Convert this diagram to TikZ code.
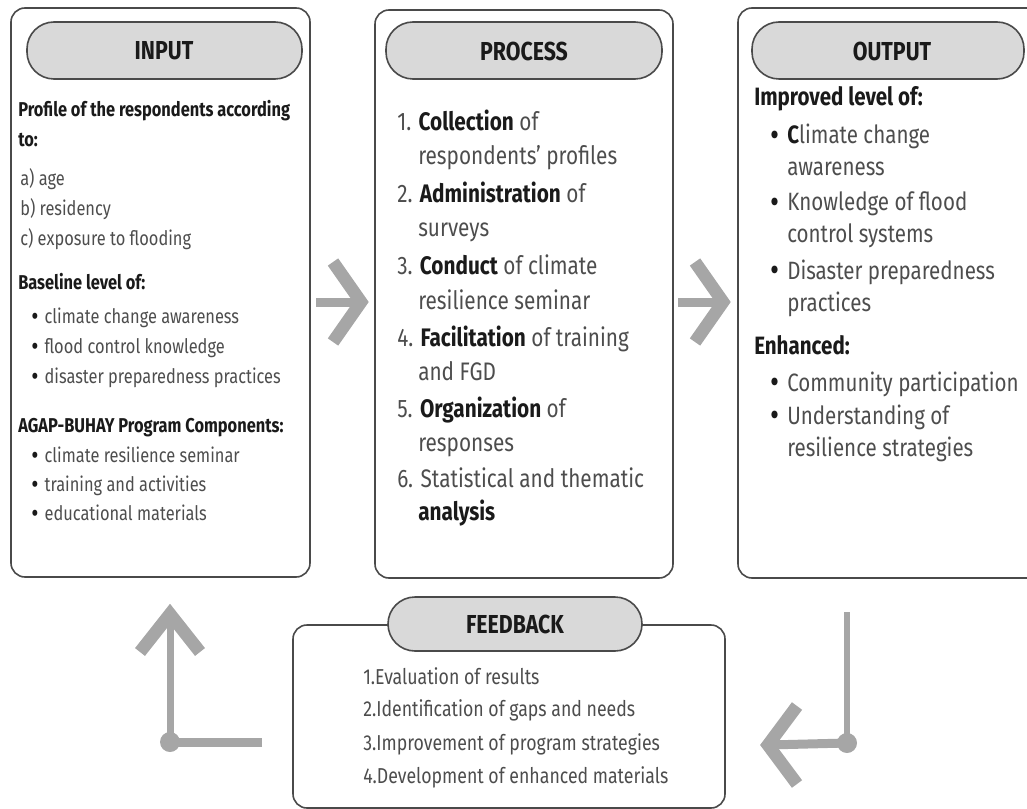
\documentclass[tikz,border=0pt]{standalone}
\usepackage{fontspec}
\usepackage{graphicx}
\usetikzlibrary{calc}
\setmainfont[FakeStretch=0.82]{Fira Sans}
\definecolor{arrowgray}{HTML}{A6A6A6}
\definecolor{pillgray}{HTML}{D9D9D9}
\definecolor{edgegray}{HTML}{4A4A4A}
\definecolor{txtgray}{HTML}{4D4D4D}
\definecolor{boldtxt}{HTML}{1A1A1A}
\tikzset{
  box/.style={draw=edgegray, line width=1.2pt, rounded corners=10.5pt},
  pill/.style={draw=edgegray, line width=1.2pt, fill=pillgray, rounded corners=20.25pt},
  head/.style={font=\bfseries\fontsize{19.5}{21}\selectfont, text=boldtxt, inner sep=0pt},
  intxt/.style={anchor=base west, inner sep=0pt, text=txtgray, font=\fontsize{15}{17}\selectfont},
  prtxt/.style={anchor=base west, inner sep=0pt, text=txtgray, font=\fontsize{19}{21}\selectfont},
  outtxt/.style={anchor=base west, inner sep=0pt, text=txtgray, font=\fontsize{18.8}{21}\selectfont},
  fbtxt/.style={anchor=base west, inner sep=0pt, text=txtgray, font=\fontsize{16.2}{18}\selectfont},
  shaft/.style={draw=arrowgray, line width=6.75pt},
  chev/.style={draw=arrowgray, line width=9.5pt, line join=miter},
}
\newcommand{\bt}[1]{\textcolor{boldtxt}{\bfseries #1}}
\newcommand{\bl}[1]{\makebox[#1][l]{\textcolor{boldtxt}{\raisebox{-0.22ex}{\scalebox{1.35}{\textbullet}}}}}
\begin{document}
\begin{tikzpicture}[x=0.75pt, y=-0.75pt]
\useasboundingbox (0,0) rectangle (1027,809);
% main boxes
\draw[box] (11,8) rectangle (310,577);
\draw[box] (375,10) rectangle (673,578);
\draw[box] (738,8) rectangle (1060,578);
\draw[box] (293,625) rectangle (725,808);
% pills
\draw[pill] (27,22) rectangle (302,79);
\draw[pill] (386,22) rectangle (662,79);
\draw[pill] (752,22) rectangle (1024,79);
\draw[pill] (388,597) rectangle (642,651);
\node[head] (hin) at (164,51) {INPUT};
\node[head] (hpr) at (524,51) {PROCESS};
\node[head] (hout) at (892,51) {OUTPUT};
\node[head] (hfb) at (515,624) {FEEDBACK};
% input text
\node[intxt] (i1) at (18,117) {\bt{Profile of the respondents according}};
\node[intxt] (i2) at (18,147) {\bt{to:}};
\node[intxt] (i3) at (20,186) {a) age};
\node[intxt] (i4) at (20,216) {b) residency};
\node[intxt] (i5) at (20,246) {c) exposure to flooding};
\node[intxt] (i6) at (18,289) {\bt{Baseline level of:}};
\node[intxt] (i7) at (31,323) {\bl{10pt}climate change awareness};
\node[intxt] (i8) at (31,353) {\bl{10pt}flood control knowledge};
\node[intxt] (i9) at (31,383) {\bl{10pt}disaster preparedness practices};
\node[intxt] (i10) at (18,432) {\bt{AGAP-BUHAY Program Components:}};
\node[intxt] (i11) at (31,462) {\bl{10pt}climate resilience seminar};
\node[intxt] (i12) at (31,491) {\bl{10pt}training and activities};
\node[intxt] (i13) at (31,520) {\bl{10pt}educational materials};
% process text
\node[prtxt] (p1) at (397,131) {1. \bt{Collection} of};
\node[prtxt] (p2) at (418,165) {respondents' profiles};
\node[prtxt] (p3) at (397,203) {2. \bt{Administration} of};
\node[prtxt] (p4) at (418,237) {surveys};
\node[prtxt] (p5) at (397,274) {3. \bt{Conduct} of climate};
\node[prtxt] (p6) at (418,309) {resilience seminar};
\node[prtxt] (p7) at (397,346) {4. \bt{Facilitation} of training};
\node[prtxt] (p8) at (418,380) {and FGD};
\node[prtxt] (p9) at (397,417) {5. \bt{Organization} of};
\node[prtxt] (p10) at (418,451) {responses};
\node[prtxt] (p11) at (397,487) {6. Statistical and thematic};
\node[prtxt] (p12) at (418,520) {\bt{analysis}};
% output text
\node[outtxt] (o1) at (754,106) {\bt{Improved level of:}};
\node[outtxt] (o2) at (770,144) {\bl{12.75pt}\bt{C}limate change};
\node[outtxt] (o3) at (787,176) {awareness};
\node[outtxt] (o4) at (770,211) {\bl{12.75pt}Knowledge of flood};
\node[outtxt] (o5) at (787,243) {control systems};
\node[outtxt] (o6) at (770,279) {\bl{12.75pt}Disaster preparedness};
\node[outtxt] (o7) at (787,311) {practices};
\node[outtxt] (o8) at (754,354) {\bt{Enhanced:}};
\node[outtxt] (o9) at (770,391) {\bl{12.75pt}Community participation};
\node[outtxt] (o10) at (770,424) {\bl{12.75pt}Understanding of};
\node[outtxt] (o11) at (787,456) {resilience strategies};
% feedback text
\node[fbtxt] (f1) at (363,684) {1.Evaluation of results};
\node[fbtxt] (f2) at (363,716) {2.Identification of gaps and needs};
\node[fbtxt] (f3) at (363,750) {3.Improvement of program strategies};
\node[fbtxt] (f4) at (363,783) {4.Development of enhanced materials};
% arrows input -> process
\coordinate (a1s) at (316,302);
\coordinate (a1e) at (358,302);
\coordinate (a1t) at (361,302);
\draw[shaft] (a1s) -- (a1e);
\draw[chev] ($(a1t)+(-28,-40)$) -- (a1t) -- ($(a1t)+(-28,40)$);
% process -> output
\coordinate (a2s) at (678,302);
\coordinate (a2e) at (720,302);
\coordinate (a2t) at (723,302);
\draw[shaft] (a2s) -- (a2e);
\draw[chev] ($(a2t)+(-28,-40)$) -- (a2t) -- ($(a2t)+(-28,40)$);
% output -> feedback
\coordinate (b1s) at (847,612);
\coordinate (b1c) at (847,743);
\coordinate (b1t) at (768,745);
\draw[draw=arrowgray, line width=4.5pt] (b1s) -- (b1c);
\draw[shaft] (b1c) -- (b1t);
\fill[arrowgray] (b1c) circle (7.5pt);
\draw[chev] ($(b1t)+(29,-39)$) -- (b1t) -- ($(b1t)+(29,39)$);
% feedback -> input
\coordinate (c1s) at (262,742);
\coordinate (c1c) at (170,742);
\coordinate (c1t) at (170,614);
\draw[shaft] (c1s) -- (c1c);
\draw[draw=arrowgray, line width=5.25pt] (c1c) -- (c1t);
\fill[arrowgray] (c1c) circle (7.5pt);
\draw[chev] ($(c1t)+(-30,38)$) -- (c1t) -- ($(c1t)+(30,38)$);
\end{tikzpicture}
\end{document}
